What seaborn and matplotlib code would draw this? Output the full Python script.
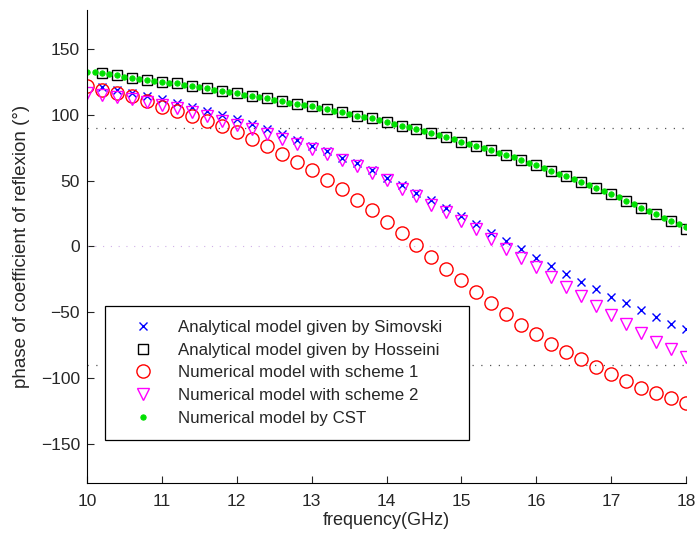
import numpy as np
import pandas as pd
import matplotlib
matplotlib.use("Agg")
import matplotlib.pyplot as plt
import seaborn as sns

# frequency grids (GHz)
freq_02 = [10.0, 10.2, 10.4, 10.6, 10.8, 11.0, 11.2, 11.4, 11.6, 11.8, 12.0, 12.2, 12.4, 12.6,
           12.8, 13.0, 13.2, 13.4, 13.6, 13.8, 14.0, 14.2, 14.4, 14.6, 14.8, 15.0, 15.2, 15.4,
           15.6, 15.8, 16.0, 16.2, 16.4, 16.6, 16.8, 17.0, 17.2, 17.4, 17.6, 17.8, 18.0]
freq_analytic = freq_02[1:]
freq_cst = [10.0, 10.1, 10.2, 10.3, 10.4, 10.5, 10.6, 10.7, 10.8, 10.9, 11.0, 11.1, 11.2, 11.3,
            11.4, 11.5, 11.6, 11.7, 11.8, 11.9, 12.0, 12.1, 12.2, 12.3, 12.4, 12.5, 12.6, 12.7,
            12.8, 12.9, 13.0, 13.1, 13.2, 13.3, 13.4, 13.5, 13.6, 13.7, 13.8, 13.9, 14.0, 14.1,
            14.2, 14.3, 14.4, 14.5, 14.6, 14.7, 14.8, 14.9, 15.0, 15.1, 15.2, 15.3, 15.4, 15.5,
            15.6, 15.7, 15.8, 15.9, 16.0, 16.1, 16.2, 16.3, 16.4, 16.5, 16.6, 16.7, 16.8, 16.9,
            17.0, 17.1, 17.2, 17.3, 17.4, 17.5, 17.6, 17.7, 17.8, 17.9, 18.0]

# phase (deg)
simovski = [121.1, 119.1, 117.0, 114.7, 112.2, 109.4, 106.4, 103.3, 100.3, 97.0, 93.5, 89.7,
            85.9, 81.3, 76.7, 72.4, 67.6, 63.3, 58.0, 52.2, 47.1, 40.8, 35.2, 29.4, 23.0, 17.2,
            10.6, 4.0, -2.3, -8.6, -15.0, -20.8, -26.8, -32.7, -38.2, -43.3, -48.6, -53.7,
            -58.8, -63.1]
hosseini = [132.0, 130.2, 128.4, 126.9, 125.4, 124.1, 122.3, 120.3, 118.3, 116.6, 114.7, 112.7,
            110.4, 108.7, 106.6, 104.6, 102.1, 99.5, 97.4, 95.0, 91.9, 89.4, 86.4, 83.3, 79.8,
            76.7, 73.2, 69.4, 65.9, 61.6, 57.5, 53.4, 48.9, 44.6, 39.8, 34.7, 29.6, 24.6, 19.2,
            13.4]
scheme1 = [122.3, 118.8, 116.8, 114.7, 110.4, 106.2, 103.3, 99.5, 95.7, 91.4, 86.9, 81.8,
           76.2, 70.7, 64.4, 58.0, 50.9, 43.8, 35.7, 27.8, 18.8, 10.2, 1.2, -7.8, -16.9, -25.4,
           -34.7, -43.3, -51.7, -59.8, -66.9, -73.9, -80.3, -85.9, -91.7, -97.3, -102.4,
           -107.4, -111.2, -115.5, -119.3]
scheme2 = [117.0, 115.5, 114.0, 112.0, 110.0, 107.5, 105.0, 102.0, 99.0, 95.5, 92.5, 89.0,
           85.5, 82.0, 78.0, 74.0, 70.0, 65.5, 61.0, 56.0, 50.2, 43.8, 38.2, 31.9, 26.3, 19.2,
           12.9, 5.8, -1.6, -9.0, -16.0, -23.0, -30.9, -37.7, -45.3, -52.4, -59.3, -65.6,
           -72.4, -78.3, -84.1]
cst = [133.0, 132.5, 132.0, 131.0, 130.2, 129.3, 128.4, 127.6, 126.9, 126.1, 125.4, 124.7,
       124.0, 123.1, 122.3, 121.3, 120.3, 119.3, 118.3, 117.4, 116.6, 115.6, 114.7, 113.7,
       112.7, 111.6, 110.4, 109.5, 108.7, 107.6, 106.6, 105.6, 104.6, 103.4, 102.1, 100.8,
       99.5, 98.5, 97.4, 96.2, 95.0, 93.5, 91.9, 90.7, 89.4, 87.9, 86.4, 84.9, 83.3, 81.6,
       79.8, 78.3, 76.7, 75.0, 73.2, 71.3, 69.4, 67.7, 65.9, 63.8, 61.6, 59.6, 57.5, 55.5,
       53.4, 51.2, 48.9, 46.8, 44.6, 42.2, 39.8, 37.3, 34.7, 32.2, 29.6, 27.1, 24.6, 21.9,
       19.2, 16.8, 14.5]

labels = ["Analytical model given by Simovski", "Analytical model given by Hosseini",
          "Numerical model with scheme 1", "Numerical model with scheme 2",
          "Numerical model by CST"]

sns.set_style("ticks")
plt.rcParams['font.family'] = ['Liberation Sans', 'DejaVu Sans']
plt.rcParams['axes.unicode_minus'] = True

fig = plt.figure(figsize=(6.99, 5.34), dpi=100)
ax = fig.add_axes([0.1245, 0.0955, 0.857, 0.886])

# reference lines
ax.axhline(90, color="#555555", lw=0.9, ls=(0, (1, 6)), zorder=1)
ax.axhline(-90, color="#555555", lw=0.9, ls=(0, (1, 6)), zorder=1)
ax.axhline(0, color="#d0b0e8", lw=0.8, ls=(0, (1, 6)), zorder=1)

common = dict(ax=ax, linestyle="", legend=False)
sns.lineplot(x=freq_analytic, y=simovski, marker="x", markersize=6, markeredgewidth=1.0,
             markeredgecolor="blue", color="blue", label=labels[0], **common)
sns.lineplot(x=freq_analytic, y=hosseini, marker="s", markersize=7.5, markerfacecolor="none",
             markeredgecolor="black", markeredgewidth=1.0, color="black", label=labels[1], **common)
sns.lineplot(x=freq_02, y=scheme1, marker="o", markersize=9.5, markerfacecolor="none",
             markeredgecolor="red", markeredgewidth=1.0, color="red", label=labels[2], **common)
sns.lineplot(x=freq_02, y=scheme2, marker="v", markersize=8.5, markerfacecolor="none",
             markeredgecolor="magenta", markeredgewidth=1.0, color="magenta", label=labels[3], **common)
sns.lineplot(x=freq_cst, y=cst, marker="o", markersize=3.8, markerfacecolor="#00e000",
             markeredgecolor="#00e000", color="#00e000", label=labels[4], **common)

ax.set_xlim(10, 18)
ax.set_ylim(-180, 180)
ax.set_xticks(range(10, 19))
ax.set_yticks([-150, -100, -50, 0, 50, 100, 150])
ax.tick_params(direction="in", length=5, width=0.8, labelsize=12.5)
ax.tick_params(axis="x", pad=8)
ax.tick_params(axis="y", pad=5)
ax.set_xlabel("frequency(GHz)", fontsize=13, labelpad=2)
ax.set_ylabel("phase of coefficient of reflexion (°)", fontsize=13.5, labelpad=8)
sns.despine(ax=ax)
for s in ["left", "bottom"]:
    ax.spines[s].set_linewidth(0.8)
    ax.spines[s].set_color("black")

handles, _ = ax.get_legend_handles_labels()
leg = ax.legend(handles, labels, loc="lower left", bbox_to_anchor=(0.03, 0.091, 0.608, 0.0),
                mode="expand", frameon=True, fancybox=False, edgecolor="black", framealpha=1,
                fontsize=12.2, handlelength=2.8, handletextpad=0.65, borderpad=0.85,
                labelspacing=0.45, borderaxespad=0)
leg.get_frame().set_linewidth(0.9)

fig.savefig("out.png", dpi=100)
